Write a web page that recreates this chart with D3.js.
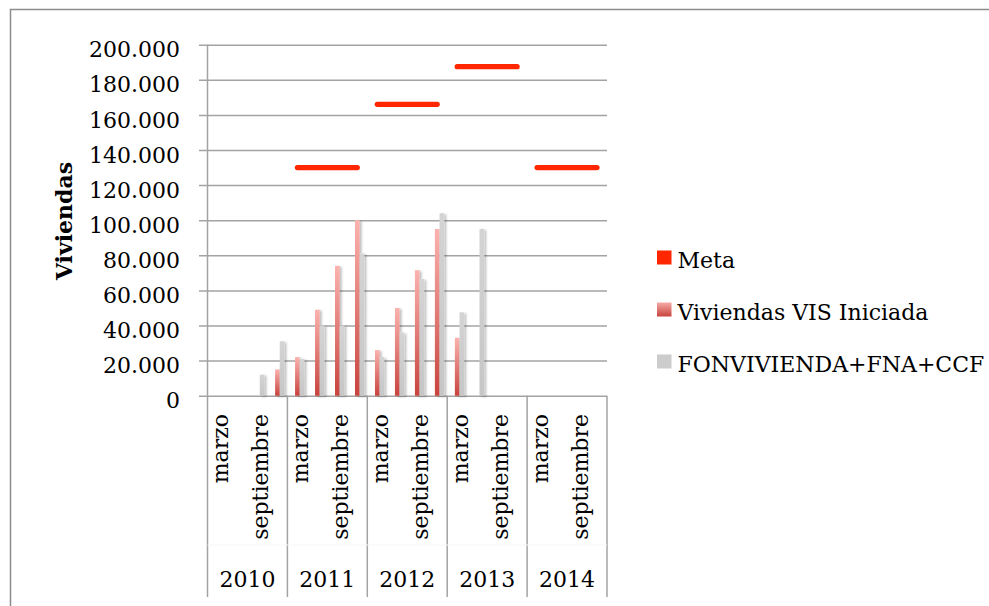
<!DOCTYPE html>
<html>
<head>
<meta charset="utf-8">
<script src="https://cdn.jsdelivr.net/npm/d3@7"></script>
<style>
  html, body { margin: 0; padding: 0; background: #fff; }
  svg { display: block; }
  text { font-family: "DejaVu Serif", "Liberation Serif", serif; fill: #000; }
</style>
</head>
<body>
<svg id="chart" width="989" height="606"></svg>
<script>
// ---- data ----
const years = ["2010", "2011", "2012", "2013", "2014"];
const months = ["marzo", "junio", "septiembre", "diciembre"];
const shownMonths = ["marzo", "septiembre"];
const seriesNames = ["Meta", "Viviendas VIS Iniciada", "FONVIVIENDA+FNA+CCF"];
const meta = [
  null, null, null, null,
  130000, 130000, 130000, 130000,
  166000, 166000, 166000, 166000,
  187500, 187500, 187500, 187500,
  130000, 130000, 130000, 130000
];
const visIniciada = [
  null, null, null, 15000,
  22000, 49000, 74000, 100000,
  26000, 50000, 71500, 95000,
  33000, null, null, null,
  null, null, null, null
];
const fonvivienda = [
  null, null, 12000, 31000,
  21000, 40000, 40000, 81000,
  22000, 36000, 66500, 104000,
  47500, 95000, null, null,
  null, null, null, null
];
const yTicks = [0, 20000, 40000, 60000, 80000, 100000, 120000, 140000, 160000, 180000, 200000];
const yTitle = "Viviendas";

// ---- build ----
(function () {
const cats = [];
years.forEach(yr => months.forEach(m => cats.push({ key: yr + "-" + m, year: yr, month: m })));

const svg = d3.select("#chart");
const pLeft = 207.5, pRight = 607, pTop = 44.7, pBottom = 395.7, axisBottom = 597;

const x = d3.scaleBand().domain(cats.map(c => c.key)).range([pLeft, pRight]).padding(0);
const xSub = d3.scaleBand().domain(seriesNames).range([0, x.bandwidth()]).paddingInner(0).paddingOuter(0.64);
const y = d3.scaleLinear().domain([0, 200000]).range([pBottom, pTop]);
const yearScale = d3.scaleBand().domain(years).range([pLeft, pRight]).padding(0);

const loc = d3.formatLocale({ decimal: ",", thousands: ".", grouping: [3], currency: ["$", ""] });
const fmt = loc.format(",d");

const defs = svg.append("defs");
const gRed = defs.append("linearGradient").attr("id", "gRed").attr("x1", 0).attr("y1", 0).attr("x2", 0).attr("y2", 1);
gRed.append("stop").attr("offset", "0%").attr("stop-color", "#fbb3af");
gRed.append("stop").attr("offset", "100%").attr("stop-color", "#c8433d");
const gGrey = defs.append("linearGradient").attr("id", "gGrey").attr("x1", 0).attr("y1", 0).attr("x2", 0).attr("y2", 1);
gGrey.append("stop").attr("offset", "0%").attr("stop-color", "#d4d4d4");
gGrey.append("stop").attr("offset", "100%").attr("stop-color", "#c6c6c6");
const gRedL = defs.append("linearGradient").attr("id", "gRedL").attr("x1", 0).attr("y1", 0).attr("x2", 0).attr("y2", 1);
gRedL.append("stop").attr("offset", "0%").attr("stop-color", "#f6aaa6");
gRedL.append("stop").attr("offset", "100%").attr("stop-color", "#c8433d");
const sh = defs.append("filter").attr("id", "shadow").attr("x", "-50%").attr("y", "-10%").attr("width", "250%").attr("height", "130%");
sh.append("feDropShadow").attr("dx", 2).attr("dy", 1).attr("stdDeviation", 1.3)
  .attr("flood-color", "#000").attr("flood-opacity", 0.25);

// outer frame
svg.append("rect").attr("x", 10.5).attr("y", 9.5).attr("width", 1000).attr("height", 700)
  .attr("fill", "none").attr("stroke", "#8c8c8c").attr("stroke-width", 1.5);

// y axis with gridlines
const yAxis = d3.axisLeft(y).tickValues(yTicks).tickFormat(fmt)
  .tickSize(-(pRight - (pLeft - 8.5))).tickPadding(19);
const gy = svg.append("g").attr("transform", `translate(${pLeft - 8.5},0)`).call(yAxis);
gy.select(".domain").remove();
gy.selectAll(".tick line").attr("stroke", "#a3a3a3").attr("stroke-width", 1.5);
gy.selectAll(".tick text").attr("font-size", 22).attr("dy", "0.55em")
  .style("font-family", '"DejaVu Serif", serif').attr("fill", "#000");

// vertical axis line
svg.append("line").attr("x1", pLeft).attr("x2", pLeft).attr("y1", pTop).attr("y2", axisBottom)
  .attr("stroke", "#a3a3a3").attr("stroke-width", 1.5);

// category axis: year dividers
svg.append("g").selectAll("line").data(years).join("line")
  .attr("x1", d => yearScale(d) + yearScale.bandwidth()).attr("x2", d => yearScale(d) + yearScale.bandwidth())
  .attr("y1", pBottom).attr("y2", axisBottom)
  .attr("stroke", "#a3a3a3").attr("stroke-width", 1.5);
svg.append("line").attr("x1", pLeft).attr("x2", pRight).attr("y1", 545).attr("y2", 545)
  .attr("stroke", "#f6f6f6").attr("stroke-width", 1);

// month labels
svg.append("g").selectAll("text").data(cats.filter(c => shownMonths.includes(c.month))).join("text")
  .attr("transform", d => `translate(${x(d.key) + x.bandwidth() / 2 + 11},414) rotate(-90)`)
  .attr("text-anchor", "end").attr("font-size", 22).text(d => d.month);

// year labels
svg.append("g").selectAll("text").data(years).join("text")
  .attr("x", d => yearScale(d) + yearScale.bandwidth() / 2).attr("y", 587)
  .attr("text-anchor", "middle").attr("font-size", 22).text(d => d);

// y title
svg.append("text").attr("transform", "translate(72,221) rotate(-90)")
  .attr("text-anchor", "middle").attr("font-size", 22).attr("font-weight", "bold").text(yTitle);

// bars
const barSeries = [
  { name: seriesNames[1], values: visIniciada, fill: "url(#gRed)" },
  { name: seriesNames[2], values: fonvivienda, fill: "url(#gGrey)" }
];
const gBars = svg.append("g").attr("filter", "url(#shadow)");
barSeries.forEach(s => {
  gBars.append("g").selectAll("rect")
    .data(cats.map((c, i) => ({ c, v: s.values[i] })).filter(d => d.v != null))
    .join("rect")
    .attr("x", d => x(d.c.key) + xSub(s.name))
    .attr("width", xSub.bandwidth())
    .attr("y", d => y(d.v))
    .attr("height", d => y(0) - y(d.v))
    .attr("fill", s.fill);
});

// meta line: one segment per year (the series breaks between years)
const metaPts = cats.map((c, i) => ({ c, v: meta[i] }));
const metaByYear = years.map(yr => metaPts.filter(d => d.c.year === yr && d.v != null)).filter(a => a.length);
const line = d3.line()
  .x(d => x(d.c.key) + x.bandwidth() / 2)
  .y(d => y(d.v));
svg.append("g").selectAll("path").data(metaByYear).join("path")
  .attr("d", line)
  .attr("fill", "none").attr("stroke", "#ff2600").attr("stroke-width", 5.2)
  .attr("stroke-linecap", "round").attr("stroke-linejoin", "round");

// legend
const legend = svg.append("g").attr("transform", "translate(657,250.5)");
const legendFills = ["#ff2600", "url(#gRedL)", "#cccccc"];
seriesNames.forEach((n, i) => {
  const g = legend.append("g").attr("transform", `translate(0,${i * 52})`);
  g.append("rect").attr("x", 0).attr("y", 0).attr("width", 14.5).attr("height", 14).attr("fill", legendFills[i]);
  g.append("text").attr("x", 20.5).attr("y", 17.5).attr("font-size", 22).text(n);
});
})();
</script>
</body>
</html>
